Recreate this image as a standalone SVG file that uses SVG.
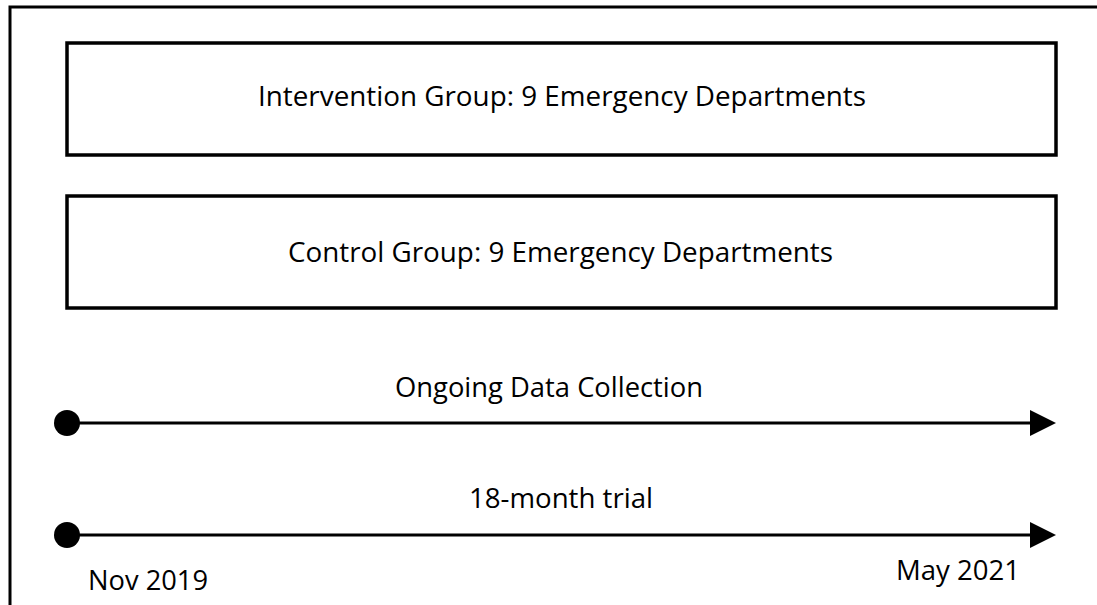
<svg xmlns="http://www.w3.org/2000/svg" width="1097" height="605" viewBox="0 0 1097 605">
  <style>
    .frame { fill: #ffffff; stroke: #000000; stroke-width: 3; }
    .box { fill: #ffffff; stroke: #000000; stroke-width: 3.5; }
    .axis { fill: none; stroke: #000000; stroke-width: 3; }
    .label { font-family: "Open Sans", "Liberation Sans", sans-serif; font-size: 27px; fill: #000000; }
  </style>
  <defs>
    <marker id="arrow-end" markerUnits="userSpaceOnUse" markerWidth="27" markerHeight="27" refX="0" refY="13" orient="auto" overflow="visible">
      <path d="M0,0 L26,13 L0,26 Z" fill="#000000"/>
    </marker>
    <marker id="dot-start" markerUnits="userSpaceOnUse" markerWidth="27" markerHeight="27" refX="13" refY="13" orient="auto" overflow="visible">
      <circle cx="13" cy="13" r="13" fill="#000000"/>
    </marker>
  </defs>

  <rect width="1097" height="605" fill="#ffffff"/>
  <!-- outer frame, running off the right and bottom edges -->
  <rect class="frame" x="10" y="7" width="1100" height="610"/>

  <g id="intervention-group">
    <rect class="box" x="67" y="43" width="989" height="112"/>
    <text class="label" x="258" y="106" textLength="608" lengthAdjust="spacingAndGlyphs">Intervention Group: 9 Emergency Departments</text>
  </g>

  <g id="control-group">
    <rect class="box" x="67" y="196" width="989" height="112"/>
    <text class="label" x="288" y="262" textLength="545" lengthAdjust="spacingAndGlyphs">Control Group: 9 Emergency Departments</text>
  </g>

  <g id="connectors">
    <line class="axis" x1="67" y1="423" x2="1030" y2="423" marker-start="url(#dot-start)" marker-end="url(#arrow-end)"/>
    <line class="axis" x1="67" y1="535" x2="1030" y2="535" marker-start="url(#dot-start)" marker-end="url(#arrow-end)"/>
  </g>

  <g id="data-collection">
    <text class="label" x="395" y="397" textLength="308" lengthAdjust="spacingAndGlyphs">Ongoing Data Collection</text>
  </g>

  <g id="trial-period">
    <text class="label" x="469" y="508" textLength="184" lengthAdjust="spacingAndGlyphs">18-month trial</text>
    <text class="label" x="88" y="590" textLength="120" lengthAdjust="spacingAndGlyphs">Nov 2019</text>
    <text class="label" x="896" y="580" textLength="124" lengthAdjust="spacingAndGlyphs">May 2021</text>
  </g>
</svg>
